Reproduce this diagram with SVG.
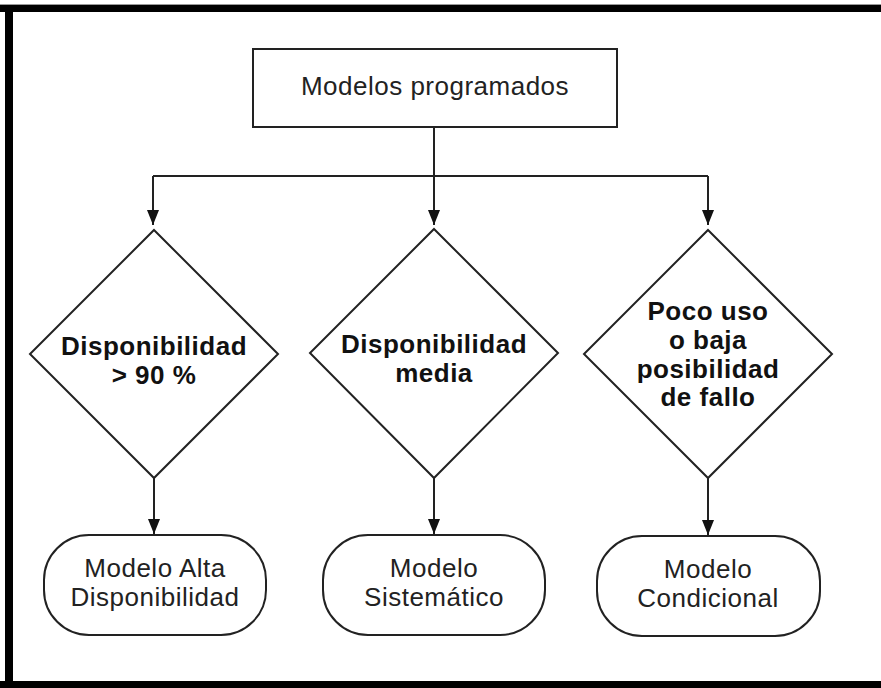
<svg xmlns="http://www.w3.org/2000/svg" width="881" height="688" viewBox="0 0 881 688">
<style>
.shape{fill:#fff;stroke:#222;stroke-width:2}
.line{fill:none;stroke:#222;stroke-width:2}
.t{font-family:"Liberation Sans",Arial,sans-serif;font-size:26px;letter-spacing:0.5px;fill:#222;text-anchor:middle}
.b{font-weight:bold;fill:#111}
</style>
<defs>
<marker id="arr" viewBox="0 0 15 12" refX="15" refY="6" markerWidth="15" markerHeight="12" orient="auto" markerUnits="userSpaceOnUse">
<path d="M0,0 L15,6 L0,12 Z" fill="#111"/>
</marker>
</defs>
<rect x="0" y="0" width="881" height="688" fill="#fff"/>
<g id="frame">
<rect x="0" y="4" width="881" height="1" fill="#999"/>
<rect x="0" y="5" width="881" height="7" fill="#000"/>
<rect x="5" y="5" width="8" height="683" fill="#000"/>
<rect x="0" y="681" width="881" height="7" fill="#000"/>
</g>
<g id="connectors">
<path class="line" d="M434,127 V225" marker-end="url(#arr)"/>
<path class="line" d="M153,176 H708"/>
<path class="line" d="M153,176 V225" marker-end="url(#arr)"/>
<path class="line" d="M708,176 V225" marker-end="url(#arr)"/>
<path class="line" d="M154,478 V534" marker-end="url(#arr)"/>
<path class="line" d="M434,478 V534" marker-end="url(#arr)"/>
<path class="line" d="M708,478 V535" marker-end="url(#arr)"/>
</g>
<g id="root">
<rect class="shape" x="253" y="49" width="364" height="78"/>
<text class="t" x="435" y="95">Modelos programados</text>
</g>
<g id="d1">
<polygon class="shape" points="154,230 278,354 154,478 30,354"/>
<text class="t b" x="154" y="355">Disponibilidad</text>
<text class="t b" x="154" y="384">&gt; 90 %</text>
</g>
<g id="d2">
<polygon class="shape" points="434,229 558,353 434,478 310,353"/>
<text class="t b" x="434" y="353">Disponibilidad</text>
<text class="t b" x="434" y="382">media</text>
</g>
<g id="d3">
<polygon class="shape" points="708,230 832,354 708,478 584,354"/>
<text class="t b" x="708" y="320">Poco uso</text>
<text class="t b" x="708" y="349">o baja</text>
<text class="t b" x="708" y="378">posibilidad</text>
<text class="t b" x="708" y="406">de fallo</text>
</g>
<g id="r1">
<rect class="shape" x="44" y="535" width="222" height="100" rx="45" ry="45"/>
<text class="t" x="155" y="577">Modelo Alta</text>
<text class="t" x="155" y="606">Disponibilidad</text>
</g>
<g id="r2">
<rect class="shape" x="323" y="535" width="222" height="100" rx="45" ry="45"/>
<text class="t" x="434" y="577">Modelo</text>
<text class="t" x="434" y="606">Sistemático</text>
</g>
<g id="r3">
<rect class="shape" x="597" y="536" width="223" height="100" rx="45" ry="45"/>
<text class="t" x="708" y="578">Modelo</text>
<text class="t" x="708" y="607">Condicional</text>
</g>
</svg>
